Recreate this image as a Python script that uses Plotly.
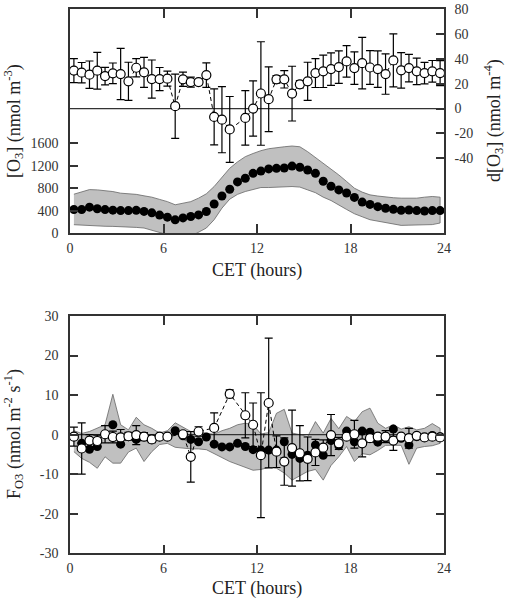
import plotly.graph_objects as go

hours = [0.25 + 0.5 * i for i in range(48)]

# ---- top panel: [O3] (left axis) ----
o3_mean = [420, 418, 462, 433, 418, 408, 400, 400, 405, 385, 360, 320, 283, 235, 270, 294,
           323, 383, 517, 660, 781, 912, 978, 1065, 1105, 1145, 1155, 1160, 1195, 1175, 1125, 1065,
           925, 835, 769, 715, 635, 552, 510, 470, 442, 422, 405, 410, 400, 392, 400, 400]
o3_upper = [693, 740, 775, 770, 760, 740, 711, 700, 690, 664, 640, 600, 560, 504, 530, 560,
            622, 700, 830, 990, 1156, 1270, 1363, 1420, 1470, 1505, 1529, 1540, 1553, 1540, 1452, 1350,
            1244, 1140, 1037, 920, 800, 730, 681, 660, 640, 630, 622, 622, 622, 640, 652, 640]
o3_lower = [148, 140, 130, 125, 120, 118, 118, 110, 100, 89, 60, 12, -30, -80, -100, -60,
            12, 89, 237, 444, 604, 690, 741, 780, 812, 812, 812, 820, 830, 820, 770, 720,
            640, 580, 504, 420, 344, 290, 237, 200, 178, 160, 136, 140, 148, 150, 150, 178]

# ---- top panel: d[O3] (right axis) ----
do3 = [30.5, 28.8, 27.2, 30.4, 26.1, 28.3, 27.7, 21.9, 32.8, 29.1, 23.7, 23.7, 24.0, 1.9, 23.5, 21.3,
       21.3, 26.9, -6.7, -8.9, -16.8, None, -7.5, 0.0, 12.1, 7.5, 23.5, 23.5, 12.0, 19.5, 21.9, 28.5,
       29.9, 31.7, 33.3, 37.9, 32.5, 36.5, 33.0, 31.7, 27.7, 38.7, 30.7, 32.5, 29.9, 28.5, 29.9, 28.5]
do3_err = [9.6, 8.2, 11, 14.8, 7, 8.3, 20.6, 15.3, 7.4, 12, 15.3, 9.3, 6, 25.8, 5.7, 4,
           2, 9.8, 22.5, 26.6, 26.5, 0, 21.9, 22.2, 41.6, 26, 3, 7, 22, 3, 15.3, 11.6,
           13, 13, 13, 12.6, 13, 20.7, 13.6, 14.6, 16.2, 21.3, 14.3, 11, 10.7, 8.6, 8.7, 10]

# ---- bottom panel: F_O3 ----
f_open = [-0.5, -3.5, -1.5, -1.6, 0.1, -0.6, -0.7, -0.4, -0.1, -0.5, -1.2, -0.5, -0.5, None, 0.1, -5.6,
          0.8, None, 1.7, None, 10.3, None, 4.9, 2.5, -5.2, 8.0, -4.3, -6.8, -3.4, -4.7, -6.1, -4.5,
          -3.3, -0.1, -2.2, -0.5, 0.1, -2.2, -0.9, -0.5, -0.5, -1.5, -0.5, -0.9, -0.3, -0.7, -0.5, -0.7]
f_open_err = [2.4, 6.5, 1.5, 1.5, 2.2, 1.5, 2.0, 1.0, 2.4, 1.0, 0.8, 0.5, 0.5, 0, 0.6, 6.4,
              1.2, 0, 3.8, 0, 1.0, 0, 5.7, 5.5, 15.8, 16.4, 4.0, 6.0, 9.6, 7.0, 5.5, 3.3,
              2.0, 5.2, 1.5, 0.5, 3.5, 3.4, 1.0, 0.5, 1.5, 2.5, 0.5, 2.5, 0.5, 0.5, 0.5, 0.5]
f_filled = [-0.5, -2.2, -3.7, -3.0, 0.0, 2.5, -2.4, -0.5, -1.2, -0.5, -1.2, -0.5, -0.5, 1.0, -0.3, -1.2,
            -1.8, -0.6, -2.4, -3.1, -3.1, -2.2, -3.0, -3.8, -3.9, -3.9, -3.9, -1.8, -5.0, -6.0, -5.2, -2.6,
            -5.2, -1.5, -2.8, 0.9, -1.8, 0.9, 0.6, -1.9, -0.8, 1.4, -0.9, -2.6, -0.5, -0.7, -0.2, -0.6]
f_upper = [1.0, 0.3, 0.8, 1.6, 2.5, 10.2, 2.5, 1.2, 4.4, 2.5, 1.6, 0.4, 1.0, 3.0, 2.0, 0.8,
           0.6, 0.3, 0.1, 1.0, 1.6, 2.5, 2.9, 2.5, 0.2, 0.5, 5.4, 6.4, 0.4, 0.0, -0.5, 3.3,
           0.4, 4.1, 1.5, 4.6, 3.3, 5.8, 6.7, 2.9, 1.6, 2.5, 1.4, 2.0, 1.2, 1.6, 2.8, 1.6]
f_lower = [-4.3, -6.0, -7.0, -8.5, -5.6, -7.2, -7.2, -4.4, -3.4, -6.8, -4.3, -2.5, -2.2, -3.2, -3.4, -3.6,
           -3.6, -3.8, -4.8, -5.8, -6.8, -7.6, -8.3, -9.0, -8.8, -8.3, -8.5, -9.7, -11.5, -10.4, -9.3, -8.8,
           -11.5, -7.8, -5.6, -3.0, -6.8, -4.8, -5.1, -4.0, -2.7, -2.7, -2.7, -7.5, -3.4, -3.0, -2.8, -2.2]

x_ticks = [0, 6, 12, 18, 24]
o3_ticks = [0, 400, 800, 1200, 1600]
do3_ticks = [-40, -20, 0, 20, 40, 60, 80]
f_ticks = [-30, -20, -10, 0, 10, 20, 30]

FONT = "Liberation Serif, 'Times New Roman', serif"
AX = "#333333"
TXT = "#222222"
BAND_FILL = "#c0c0c0"
BAND_LINE = "#666666"

fig = go.Figure()

# top band
fig.add_trace(go.Scatter(x=hours + hours[::-1], y=o3_upper + o3_lower[::-1], fill="toself",
                         fillcolor=BAND_FILL, line=dict(color=BAND_LINE, width=0.8),
                         mode="lines", xaxis="x", yaxis="y", hoverinfo="skip"))
fig.add_trace(go.Scatter(x=hours, y=o3_mean, mode="markers",
                         marker=dict(size=9, color="black"), xaxis="x", yaxis="y"))
# zero line on right axis
fig.add_trace(go.Scatter(x=[0, 24], y=[0, 0], mode="lines", line=dict(color=AX, width=1.2),
                         xaxis="x", yaxis="y2", hoverinfo="skip"))
fig.add_trace(go.Scatter(x=hours, y=do3, mode="lines+markers", connectgaps=True,
                         line=dict(color="black", width=1, dash="4px,3px"),
                         marker=dict(size=9, color="white", line=dict(color="black", width=1.2)),
                         error_y=dict(type="data", array=do3_err, color="black", thickness=1.2, width=4),
                         xaxis="x", yaxis="y2"))

# bottom panel
fig.add_trace(go.Scatter(x=hours + hours[::-1], y=f_upper + f_lower[::-1], fill="toself",
                         fillcolor=BAND_FILL, line=dict(color=BAND_LINE, width=0.8),
                         mode="lines", xaxis="x2", yaxis="y3", hoverinfo="skip"))
fig.add_trace(go.Scatter(x=[0, 24], y=[0, 0], mode="lines", line=dict(color=AX, width=1.2),
                         xaxis="x2", yaxis="y3", hoverinfo="skip"))
fig.add_trace(go.Scatter(x=hours, y=f_filled, mode="markers",
                         marker=dict(size=9, color="black"), xaxis="x2", yaxis="y3"))
fig.add_trace(go.Scatter(x=hours, y=f_open, mode="lines+markers", connectgaps=True,
                         line=dict(color="black", width=1, dash="4px,3px"),
                         marker=dict(size=9, color="white", line=dict(color="black", width=1.2)),
                         error_y=dict(type="data", array=f_open_err, color="black", thickness=1.2, width=4),
                         xaxis="x2", yaxis="y3"))

W, H = 506, 600
xdom = [70 / W, 444 / W]
top_dom = [1 - 233 / H, 1 - 9 / H]
bot_dom = [1 - 553.3 / H, 1 - 316 / H]


def lab(v):
    return [str(t) for t in v]


common = dict(showline=True, linecolor=AX, linewidth=1.5, ticks="inside", tickcolor=AX,
              tickwidth=1.5, showgrid=False, zeroline=False, automargin=False,
              tickfont=dict(family=FONT, size=14, color="#333333"))


def ann(text, x, y, angle=0):
    return dict(text=text, x=x / W, y=1 - y / H, xref="paper", yref="paper", showarrow=False,
                xanchor="center", yanchor="middle", textangle=angle,
                font=dict(family=FONT, size=18, color=TXT))


fig.update_layout(
    width=W, height=H, margin=dict(l=0, r=0, t=0, b=0, autoexpand=False),
    paper_bgcolor="white", plot_bgcolor="white", showlegend=False,
    font=dict(family=FONT, color=TXT),
    xaxis=dict(domain=xdom, anchor="y", range=[0, 24], tickvals=x_ticks, ticktext=lab(x_ticks),
               ticklen=9, mirror="ticks", ticklabelstandoff=1, **common),
    yaxis=dict(domain=top_dom, anchor="x", range=[0, 4000], tickvals=o3_ticks, ticktext=lab(o3_ticks),
               ticklen=8, ticklabelstandoff=7, **common),
    yaxis2=dict(overlaying="y", side="right", anchor="x", range=[-100, 80], tickvals=do3_ticks,
                ticktext=lab(do3_ticks), ticklen=8, ticklabelstandoff=6, **common),
    xaxis2=dict(domain=xdom, anchor="y3", range=[0, 24], tickvals=x_ticks, ticktext=lab(x_ticks),
                ticklen=9, mirror="ticks", ticklabelstandoff=1, **common),
    yaxis3=dict(domain=bot_dom, anchor="x2", range=[-30, 30], tickvals=f_ticks, ticktext=lab(f_ticks),
                ticklen=8, mirror="ticks", ticklabelstandoff=7, **common),
    annotations=[
        ann("CET (hours)", 257, 270),
        ann("CET (hours)", 257, 588),
        ann("[O<sub>3</sub>] (nmol m<sup>-3</sup>)", 13, 121, -90),
        ann("d[O<sub>3</sub>] (nmol m<sup>-4</sup>)", 493, 121, -90),
        ann("F<sub>O3</sub> (nmol m<sup>-2</sup> s<sup>-1</sup>)", 13, 434, -90),
    ],
)

fig.write_html(
    "out.html",
    config={"displayModeBar": False},
    post_script="document.documentElement.style.margin='0';document.body.style.margin='0';"
                "document.body.style.padding='0';document.body.style.overflow='hidden';",
)
